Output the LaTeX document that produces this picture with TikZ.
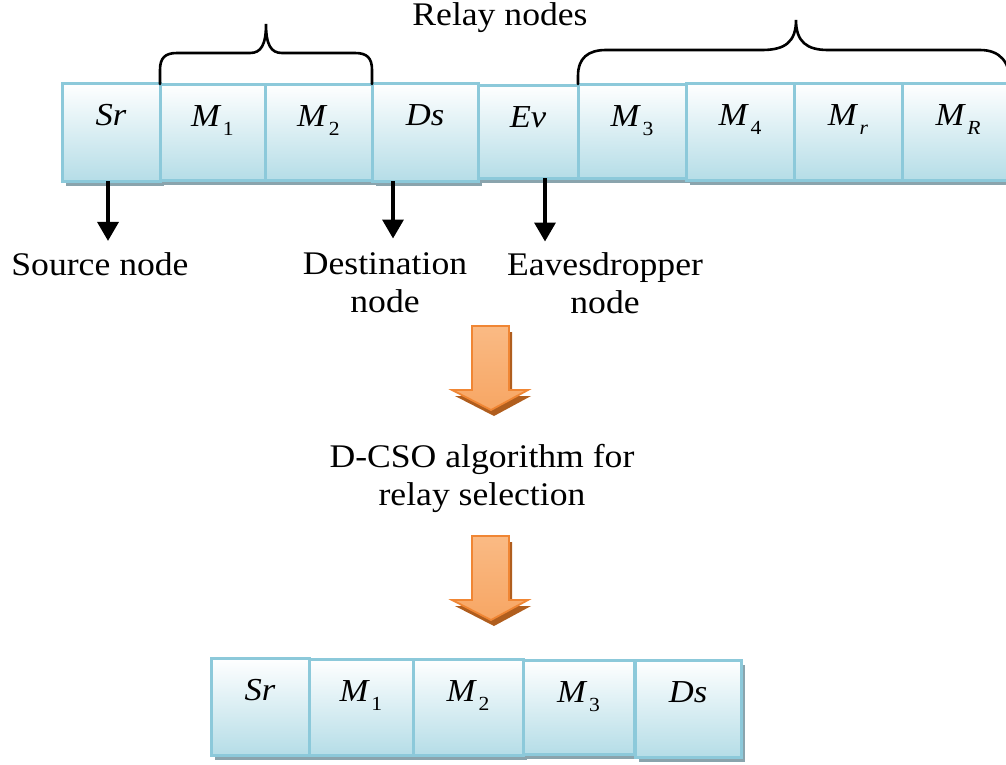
\documentclass[tikz,border=0pt]{standalone}
\usepackage{fontspec}
\setmainfont{Liberation Serif}[FakeStretch=1.08]
\usetikzlibrary{arrows.meta,calc,fit}

\definecolor{cellline}{RGB}{140,201,218}
\definecolor{cellfill}{RGB}{181,221,231}
\definecolor{cellshadow}{RGB}{138,164,173}
\definecolor{orlight}{RGB}{250,186,132}
\definecolor{ormid}{RGB}{242,134,48}
\definecolor{orhead}{RGB}{247,166,100}
\definecolor{orline}{RGB}{240,134,52}
\definecolor{orshadow}{RGB}{176,94,30}

\tikzset{
  cellbox/.style={draw=cellline, line width=3pt, top color=white,
    bottom color=cellfill, inner sep=0pt, outer sep=0pt},
  celltext/.style={font=\fontsize{32}{38}\selectfont\itshape, anchor=base, inner sep=0pt},
  caption/.style={font=\fontsize{33}{38}\selectfont, align=center, inner sep=0pt},
  pointer/.style={line width=3.5pt, -{Triangle[width=21pt,length=19pt]}},
  brace/.style={line width=2.6pt, line cap=round},
}

% M with a spaced, lowered index
\newcommand\Midx[1]{\textit{M}\kern3pt\raisebox{-9pt}{\fontsize{20}{20}\selectfont\upshape #1}}

% one cell of a node row: name, left, top, right, bottom, label
\newcommand\relaycell[6]{%
  \fill[cellshadow] ({#2+4},{#3+5}) rectangle ({#4+4},{#5+5});
  \node[cellbox, fit={(#2,#3) (#4,#5)}] (#1) {};
  \node[celltext] (#1-t) at ($(#1.north)+(0,42)$) {#6};
}

% shaded block arrow pointing down, top edge at y = #1
\newcommand\blockarrow[2]{%
  \fill[orshadow] (475,{#1+6}) -- (512,{#1+6}) -- (512,{#1+70}) -- (531,{#1+70})
    -- (494,{#1+90}) -- (455,{#1+70}) -- (475,{#1+70}) -- cycle;
  \draw[orline, line width=1.8pt, line join=miter, top color=orlight,
    middle color=ormid, bottom color=orhead]
    (472,#1) -- (509,#1) -- (509,{#1+64}) -- (528,{#1+64})
    -- (491,{#1+84}) -- (452,{#1+64}) -- (472,{#1+64}) -- cycle;
  \coordinate (#2) at (491,{#1+42});
}

\begin{document}
\begin{tikzpicture}[x=1pt, y=-1pt]
\useasboundingbox (0,0) rectangle (1006,764);
\clip (0,0) rectangle (1006,764);

% full row of nodes
\relaycell{t-sr}{62}{83}{160}{181}{Sr}
\relaycell{t-m1}{160}{84}{265}{180}{\Midx{1}}
\relaycell{t-m2}{265}{84}{372}{180}{\Midx{2}}
\relaycell{t-ds}{372}{83}{478}{181}{Ds}
\relaycell{t-ev}{478}{85}{578}{178}{Ev}
\relaycell{t-m3}{578}{84}{686}{178}{\Midx{3}}
\relaycell{t-m4}{686}{83}{794}{180}{\Midx{4}}
\relaycell{t-mr}{794}{83}{902}{180}{\Midx{\textit{r}}}
\relaycell{t-mR}{902}{83}{1014}{180}{\Midx{\textit{R}}}

% braces over the relays
\draw[brace] (t-m1.north west) -- (160,70) .. controls (160,58) and (165,53) .. (177,53)
  -- (250,53) .. controls (261,53) and (266,45) .. (266,24)
  .. controls (266,45) and (271,53) .. (282,53)
  -- (355,53) .. controls (367,53) and (372,58) .. (372,70) -- (t-m2.north east);
\draw[brace] (t-m3.north west) -- (578,76) .. controls (578,58) and (588,50) .. (606,50)
  -- (762,50) .. controls (785,50) and (796,42) .. (796,20)
  .. controls (796,42) and (807,50) .. (828,50)
  -- (980,50) .. controls (1000,50) and (1010,62) .. (1010,83);

\node[caption, anchor=base] (relay) at (500,25) {Relay nodes};

% role labels
\node[caption, anchor=base] (src) at (100,275) {Source node};
\node[caption, anchor=north] (dst) at (385,252.5) {Destination\\node};
\node[caption, anchor=north] (eve) at (605,252.5) {Eavesdropper\\node};

\coordinate (p-src) at ($(t-sr.south)+(-3,0)$);
\coordinate (p-dst) at ($(t-ds.south)+(-32,0)$);
\coordinate (p-eve) at ($(t-ev.south)+(17,0)$);
\draw[pointer, shorten >=11pt] (p-src) -- (p-src |- src.north);
\draw[pointer, shorten >=14pt] (p-dst) -- (p-dst |- dst.north);
\draw[pointer, shorten >=11pt] (p-eve) -- (p-eve |- eve.north);

% selection step
\blockarrow{326}{a1}
\node[caption, anchor=north] (algo) at (482,444.5) {D-CSO algorithm for\\relay selection};
\blockarrow{536}{a2}

% selected path
\relaycell{b-sr}{211}{658}{309}{755}{Sr}
\relaycell{b-m1}{309}{659}{413}{755}{\Midx{1}}
\relaycell{b-m2}{413}{659}{523}{755}{\Midx{2}}
\relaycell{b-m3}{523}{660}{634}{754}{\Midx{3}}
\relaycell{b-ds}{635}{660}{741}{757}{Ds}
\end{tikzpicture}
\end{document}
